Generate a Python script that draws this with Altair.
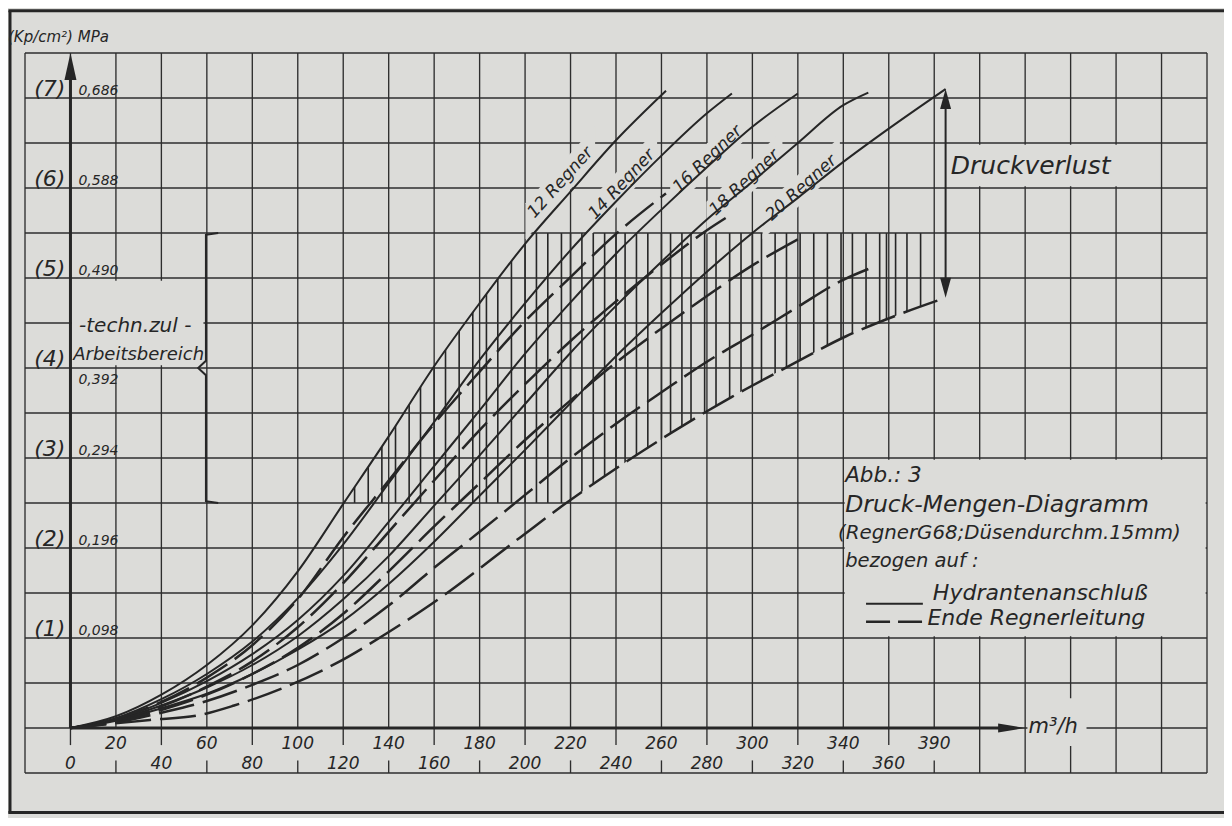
import math
import altair as alt
import pandas as pd

PAPER = "#dcdcd9"
INK = "#262626"
GRID = "#2e2e2e"
FONT = "DejaVu Sans"

# ---------------- data ----------------
# flow Q in m3/h, pressure p in kp/cm2
Q12 = [0, 20, 40, 60, 80, 100, 120, 140, 160, 180, 200, 220, 240, 262]
H12 = [0, 0.13, 0.37, 0.70, 1.14, 1.74, 2.49, 3.24, 4.02, 4.72, 5.38, 5.96, 6.53, 7.08]
E12 = [0, 0.10, 0.29, 0.56, 0.92, 1.43, 2.12, 2.75, 3.38, 3.96, 4.52, 5.01, 5.49, 5.94]

Q14 = [0, 20, 40, 60, 80, 100, 120, 140, 160, 180, 200, 220, 240, 260, 280, 291]
H14 = [0, 0.11, 0.32, 0.60, 0.96, 1.44, 2.04, 2.72, 3.40, 4.09, 4.72, 5.31, 5.85, 6.36, 6.83, 7.05]
E14 = [0, 0.08, 0.24, 0.46, 0.74, 1.12, 1.61, 2.18, 2.75, 3.31, 3.82, 4.30, 4.74, 5.15, 5.53, 5.71]

Q16 = [0, 20, 40, 60, 80, 100, 120, 140, 160, 180, 200, 220, 240, 260, 280, 300, 320]
H16 = [0, 0.10, 0.28, 0.52, 0.82, 1.20, 1.69, 2.29, 2.91, 3.53, 4.16, 4.73, 5.27, 5.76, 6.23, 6.68, 7.05]
E16 = [0, 0.07, 0.20, 0.37, 0.60, 0.89, 1.27, 1.74, 2.24, 2.72, 3.20, 3.64, 4.06, 4.44, 4.80, 5.14, 5.43]

Q18 = [0, 20, 40, 60, 80, 100, 120, 140, 160, 180, 200, 220, 240, 260, 280, 300, 320, 340, 351]
H18 = [0, 0.09, 0.25, 0.45, 0.70, 1.02, 1.43, 1.91, 2.47, 3.03, 3.60, 4.17, 4.69, 5.18, 5.65, 6.07, 6.50, 6.92, 7.06]
E18 = [0, 0.06, 0.17, 0.30, 0.48, 0.70, 1.00, 1.36, 1.78, 2.18, 2.59, 3.00, 3.38, 3.73, 4.07, 4.37, 4.68, 4.98, 5.10]

Q20 = [0, 20, 40, 60, 80, 100, 120, 140, 160, 180, 200, 220, 240, 260, 280, 300, 320, 340, 360, 385]
H20 = [0, 0.08, 0.22, 0.38, 0.60, 0.87, 1.19, 1.60, 2.07, 2.58, 3.09, 3.61, 4.13, 4.61, 5.07, 5.50, 5.89, 6.29, 6.66, 7.10]
Q20E = [0, 35, 56, 72, 95, 117, 139, 159, 198, 217, 241, 265, 291, 316, 341, 364, 385]
E20 = [0, 0.09, 0.14, 0.25, 0.46, 0.72, 1.05, 1.38, 2.12, 2.48, 2.90, 3.29, 3.68, 4.02, 4.35, 4.59, 4.78]

# technically permitted working range (kp/cm2)
ARB_MIN = 2.5
ARB_MAX = 5.5
# x positions of the hatch strokes of the working area
HATCH_Q = [125, 131, 137, 143, 149, 154, 160, 165, 171, 177, 183, 188, 194, 200, 205,
           210, 216, 220, 225, 230, 235, 240, 244, 249, 254, 260, 264, 269, 273, 279,
           284, 290, 295, 300, 304, 310, 315, 321, 327, 333, 339, 344, 350, 356, 359,
           363, 368, 374]

# axis tick labels
TICK_UP_Q = [20, 60, 100, 140, 180, 220, 260, 300, 340, 380]
TICK_UP_LBL = ["20", "60", "100", "140", "180", "220", "260", "300", "340", "390"]
TICK_LO_Q = [0, 40, 80, 120, 160, 200, 240, 280, 320, 360]
TICK_LO_LBL = ["0", "40", "80", "120", "160", "200", "240", "280", "320", "360"]
P_TICKS = [1, 2, 3, 4, 5, 6, 7]
KP_LBL = ["(1)", "(2)", "(3)", "(4)", "(5)", "(6)", "(7)"]
MPA_LBL = ["0,098", "0,196", "0,294", "0,392", "0,490", "0,588", "0,686"]

SERIES = [(12, Q12, H12, Q12, E12), (14, Q14, H14, Q14, E14), (16, Q16, H16, Q16, E16),
          (18, Q18, H18, Q18, E18), (20, Q20, H20, Q20E, E20)]
# curve labels: text, centre Q, centre p, rotation (deg, rising to the right)
LABELS = [("12 Regner", 215.5, 6.06, 48), ("14 Regner", 242.5, 6.04, 47),
          ("16 Regner", 280.3, 6.32, 44), ("18 Regner", 296.5, 6.06, 43),
          ("20 Regner", 321.5, 6.0, 42)]

# ---------------- geometry helpers ----------------
X0, X1, Y0, Y1 = -20, 500, -0.5, 7.5
W, H = 1182, 720
PX_X = W / (X1 - X0)      # pixels per m3/h
PX_Y = H / (Y1 - Y0)      # pixels per kp/cm2
XS = alt.Scale(domain=[X0, X1], nice=False, zero=False)
YS = alt.Scale(domain=[Y0, Y1], nice=False, zero=False)

rows_h, rows_e = [], []
for n, qh, h, qe, e in SERIES:
    rows_h += [{"n": n, "q": a, "p": b} for a, b in zip(qh, h)]
    rows_e += [{"n": n, "q": a, "p": b} for a, b in zip(qe, e)]
df_h = pd.DataFrame(rows_h)
df_e = pd.DataFrame(rows_e)
df_12h = pd.DataFrame({"q": Q12, "p": H12, "top": [ARB_MAX] * len(Q12)})
df_20e = pd.DataFrame({"q": Q20E, "p": E20, "bot": [ARB_MIN] * len(Q20E)})


def X(field="q"):
    return alt.X(f"{field}:Q", scale=XS, axis=None)


def Y(field="p"):
    return alt.Y(f"{field}:Q", scale=YS, axis=None)


def segs(rows):
    return pd.DataFrame(rows, columns=["x1", "x2", "y1", "y2"])


def rule_layer(rows, width, dash=None, color=INK):
    kw = dict(color=color, strokeWidth=width)
    if dash:
        kw["strokeDash"] = dash
    return alt.Chart(segs(rows)).mark_rule(**kw).encode(
        x=X("x1"), x2=alt.X2("x2"), y=Y("y1"), y2=alt.Y2("y2"))


def vband(rows, color):
    """vertical-orientation area polygons: rows of (group, x, ylow, yhigh)"""
    df = pd.DataFrame(rows, columns=["g", "x", "ya", "yb"])
    return alt.Chart(df).mark_area(color=color, opacity=1).encode(
        x=X("x"), y=Y("ya"), y2=alt.Y2("yb"), detail="g:N")


def hband(rows, color):
    """horizontal-orientation area polygons: rows of (group, y, xlow, xhigh)"""
    df = pd.DataFrame(rows, columns=["g", "y", "xa", "xb"])
    return alt.Chart(df).mark_area(color=color, opacity=1).encode(
        y=Y("y"), x=X("xa"), x2=alt.X2("xb"), detail="g:N")


# hatch of the working area, trimmed by paper-coloured masks along the curves
hatch = rule_layer([(q, q, ARB_MIN, ARB_MAX) for q in HATCH_Q], 1.6)
mask_a = alt.Chart(df_12h).mark_area(interpolate="monotone", color=PAPER, opacity=1).encode(
    x=X(), y=Y(), y2=alt.Y2("top"))
mask_b = alt.Chart(df_20e).mark_area(interpolate="monotone", color=PAPER, opacity=1).encode(
    x=X(), y=Y(), y2=alt.Y2("bot"))

# grid
grid_rows = [(X0, X1, i * 0.5, i * 0.5) for i in range(-1, 16)]
for v in range(X0, X1 + 1, 20):
    if v < 0 or v >= 400:
        grid_rows.append((v, v, Y0, Y1))
    else:
        grid_rows.append((v, v, 0, Y1))
        if v % 40 == 0:
            grid_rows.append((v, v, 0, -0.19))
        else:
            grid_rows.append((v, v, -0.36, Y0))
grid = rule_layer(grid_rows, 1.35, color=GRID)

# blank paper behind lettering
BLANKS = [(0.6, 58.5, 4.03, 4.97), (386, 479.3, 6.02, 6.48), (340.6, 499.4, 1.02, 2.98),
          (421, 447, -0.2, 0.33)]
blank = alt.Chart(segs(BLANKS)).mark_rect(color=PAPER, opacity=1).encode(
    x=X("x1"), x2=alt.X2("x2"), y=Y("y1"), y2=alt.Y2("y2"))
# blank bands along the rotated curve labels
band_rows = []
for t, q, p, a in LABELS:
    th = math.radians(a)
    half_len = 52 * math.cos(th) / PX_X
    half_thk = 12 / math.cos(th) / PX_Y
    slope = math.tan(th) * PX_X / PX_Y
    for sgn in (-1, 1):
        qq = q + sgn * half_len
        pc = p + (qq - q) * slope
        band_rows.append((t, qq, pc - half_thk, pc + half_thk))
label_band = vband(band_rows, PAPER)

# curves
solid = alt.Chart(df_h).mark_line(interpolate="monotone", color=INK, strokeWidth=2.0).encode(
    x=X(), y=Y(), detail="n:N", order="q:Q")
dashed = alt.Chart(df_e).mark_line(interpolate="monotone", color=INK, strokeWidth=2.5,
                                   strokeDash=[36, 9]).encode(
    x=X(), y=Y(), detail="n:N", order="q:Q")

# axes (thick) with arrow heads
AX_TIP = 420
ah_len_x = 27 / PX_X
ah_len_y = 27 / PX_Y
thick = rule_layer([(0, AX_TIP - ah_len_x + 0.5, 0, 0), (0, 0, 0, Y1 - ah_len_y + 0.02)], 3)
head_y = hband([("ya", Y1 - ah_len_y, -6 / PX_X, 6 / PX_X), ("ya", Y1, 0, 0)], INK)
head_x = vband([("xa", AX_TIP - ah_len_x, -4.5 / PX_Y, 4.5 / PX_Y), ("xa", AX_TIP, 0, 0)], INK)

# Druckverlust arrow between end of hydrant curve and end of line curve (20 Regner)
dq = Q20[-1]
dv_len = 20 / PX_Y
dv = rule_layer([(dq, dq, E20[-1] + dv_len * 0.8, H20[-1] - dv_len * 0.8)], 2)
head_dv = hband([("up", H20[-1] - dv_len, dq - 5.5 / PX_X, dq + 5.5 / PX_X), ("up", H20[-1], dq, dq),
                 ("dn", E20[-1], dq, dq), ("dn", E20[-1] + dv_len, dq - 5.5 / PX_X, dq + 5.5 / PX_X)], INK)

# legend samples
leg_solid = rule_layer([(350, 375, 1.38, 1.38)], 2)
leg_dash = rule_layer([(350, 376.5, 1.18, 1.18)], 2.5, dash=[24, 8])

# bracket of working range
df_br = pd.DataFrame({"q": [65, 59.6, 59.6, 56.2, 59.6, 59.6, 65],
                      "p": [ARB_MAX, ARB_MAX - 0.02, 4.08, 4.0, 3.92, ARB_MIN + 0.02, ARB_MIN],
                      "o": list(range(7))})
bracket = alt.Chart(df_br).mark_line(color=INK, strokeWidth=2).encode(x=X(), y=Y(), order="o:Q")


def texts(rows, align, baseline="alphabetic", angle=False):
    df = pd.DataFrame(rows, columns=["t", "x", "y", "s"] + (["a"] if angle else []))
    enc = dict(x=X("x"), y=Y("y"), text="t:N", size=alt.Size("s:Q", scale=None, legend=None))
    if angle:
        enc["angle"] = alt.Angle("a:Q", scale=None)
    return alt.Chart(df).mark_text(align=align, baseline=baseline, font=FONT, fontStyle="italic",
                                   color=INK).encode(**enc)


t_up = texts([(l, q, -0.23, 17) for l, q in zip(TICK_UP_LBL, TICK_UP_Q)], "center")
t_lo = texts([(l, q, -0.45, 17) for l, q in zip(TICK_LO_LBL, TICK_LO_Q)], "center")
t_kp = texts([(l, -2.2, p + 0.02, 22) for l, p in zip(KP_LBL, P_TICKS)], "right")
t_mpa = texts([(l, 3.5, (p + 0.03) if p != 4 else 3.82, 14) for l, p in zip(MPA_LBL, P_TICKS)], "left")
t_misc = texts([
    ("(Kp/cm²) MPa", -27.5, 7.62, 15),
    ("Arbeitsbereich", 1.2, 4.09, 18),
    ("Druckverlust", 387.3, 6.16, 25),
    ("Abb.: 3", 340.8, 2.73, 21.5),
    ("Druck-Mengen-Diagramm", 340.8, 2.40, 23.5),
    ("(RegnerG68;Düsendurchm.15mm)", 337.7, 2.10, 19.8),
    ("bezogen auf :", 340.8, 1.79, 19.5),
    ("Hydrantenanschluß", 379.4, 1.42, 22),
    ("Ende Regnerleitung", 377.0, 1.14, 22),
    ("m³/h", 421.5, -0.05, 21),
], "left")
t_techn = texts([("-techn.zul -", 28.5, 4.40, 20)], "center")
t_reg = texts([(t, q, p, 17, 360 - a) for t, q, p, a in LABELS], "center", "middle", angle=True)

# outer frame of the sheet (decoration, outside the grid)
frame = rule_layer([(-27.3, 536, 7.97, 7.97), (-26.6, -26.6, 7.97, -0.95),
                    (-27.3, 536, -0.94, -0.94)], 3)

chart = alt.layer(
    hatch, mask_a, mask_b, grid, blank, label_band, solid, dashed, thick, head_y, head_x,
    dv, head_dv, bracket, leg_solid, leg_dash, t_up, t_lo, t_kp, t_mpa, t_misc, t_techn, t_reg, frame
).properties(
    width=W, height=H,
    padding={"left": 17, "top": 45, "right": 17, "bottom": 45},
    autosize=alt.AutoSizeParams(type="none"),
    background=PAPER,
).configure_view(stroke=None)

chart.save("out.html", embed_options={"renderer": "svg", "actions": False})
